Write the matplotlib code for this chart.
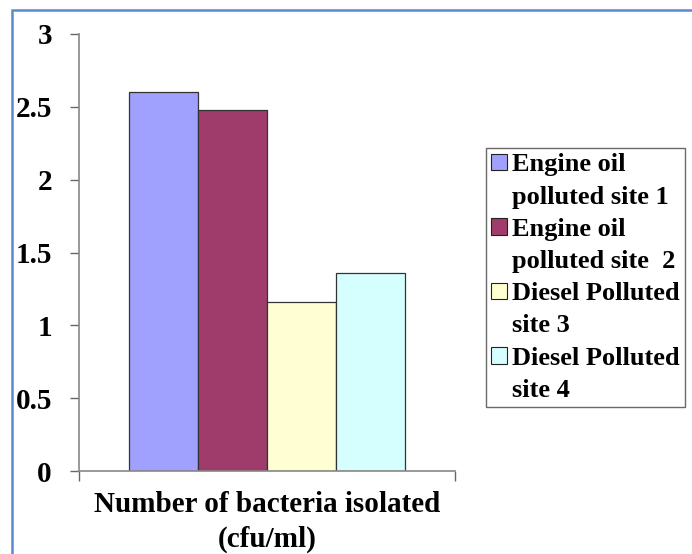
import matplotlib
matplotlib.use("Agg")
import matplotlib.pyplot as plt
from matplotlib.patches import Rectangle, Patch

category = "Number of bacteria isolated\n(cfu/ml)"
series = ["Engine oil\npolluted site 1", "Engine oil\npolluted site  2",
          "Diesel Polluted\nsite 3", "Diesel Polluted\nsite 4"]
values = [2.6, 2.48, 1.16, 1.36]
colors = ["#A0A0FF", "#A03C6C", "#FFFFD2", "#D5FFFF"]
yticks = [0, 0.5, 1, 1.5, 2, 2.5, 3]
ytick_labels = ["0", "0.5", "1", "1.5", "2", "2.5", "3"]

plt.rcParams['font.family'] = ['Liberation Serif', 'DejaVu Serif']
plt.rcParams['font.weight'] = 'bold'

fig = plt.figure(figsize=(6.92, 5.54), dpi=100)
ax = fig.add_axes([79/692, 1-471/554, (455-79)/692, (471-34)/554])

w = 0.183
n = len(values)
for i, (v, c) in enumerate(zip(values, colors)):
    x = (i - (n-1)/2) * w
    ax.bar(x, v, width=w, color=c, edgecolor="#333333", linewidth=0.9)

ax.set_xlim(-0.5, 0.5)
ax.set_ylim(0, 3)
ax.set_yticks(yticks)
ax.set_yticklabels(ytick_labels, fontsize=21, fontweight='bold')
ax.set_xticks([-0.5, 0.5])
ax.set_xticklabels(["", ""])
ax.tick_params(axis='y', direction='out', length=6.5, width=1, color='#666666', pad=13)
ax.tick_params(axis='x', direction='out', length=7, width=1, color='#666666')
for s in ['top', 'right']:
    ax.spines[s].set_visible(False)
for s in ['left', 'bottom']:
    ax.spines[s].set_color('#888888')
    ax.spines[s].set_linewidth(1.2)

lines = category.split("\n")
fig.text((79+455)/2/692, 1-505/554, lines[0], ha='center', va='center',
         fontsize=21, fontweight='bold')
fig.text((79+455)/2/692, 1-539/554, lines[1], ha='center', va='center',
         fontsize=21, fontweight='bold')

# legend: one handle per series on the first line, blank handle on second line
handles, labels = [], []
for s, c in zip(series, colors):
    l1, l2 = s.split("\n")
    handles.append(Patch(facecolor=c, edgecolor="#222222", linewidth=0.8))
    labels.append(l1)
    handles.append(Patch(facecolor='none', edgecolor='none'))
    labels.append(l2)
leg = fig.legend(handles, labels, loc='upper left',
                 bbox_to_anchor=(486/692, 1-148/554), bbox_transform=fig.transFigure,
                 prop={'family': 'Liberation Serif', 'weight': 'bold', 'size': 19},
                 frameon=True, fancybox=False, edgecolor='#444444',
                 handlelength=0.6, handleheight=0.6, handletextpad=0.2,
                 labelspacing=0.35, borderpad=0.2, borderaxespad=0)
leg.get_frame().set_linewidth(1.0)

# outer blue border
fig.patches.append(Rectangle((12/692, -0.05), 1.2, 1-10/554+0.05, transform=fig.transFigure,
                             fill=False, edgecolor='#5A8AD0', linewidth=1.8))

fig.savefig("out.png", dpi=100)
